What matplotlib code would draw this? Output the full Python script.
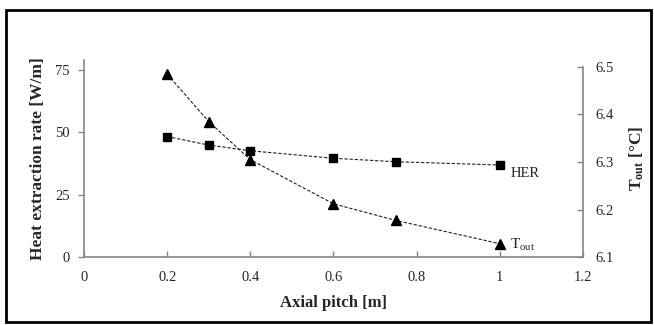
import matplotlib.pyplot as plt
from matplotlib.patches import Rectangle

plt.rcParams['font.family'] = ['Liberation Serif', 'DejaVu Serif']
plt.rcParams['mathtext.fontset'] = 'custom'
plt.rcParams['mathtext.rm'] = 'Liberation Serif'
plt.rcParams['mathtext.bf'] = 'Liberation Serif:bold'

# data
pitch = [0.2, 0.3, 0.4, 0.6, 0.75, 1.0]
her = [48.3, 44.9, 42.6, 39.6, 38.2, 36.9]
t_out = [6.485, 6.385, 6.305, 6.212, 6.177, 6.128]

x_ticks = [0, 0.2, 0.4, 0.6, 0.8, 1, 1.2]
x_labels = ['0', '0.2', '0.4', '0.6', '0.8', '1', '1.2']
her_ticks = [0, 25, 50, 75]
t_ticks = [6.1, 6.2, 6.3, 6.4, 6.5]

gray = '#868686'
txt = '#262626'

fig = plt.figure(figsize=(6.54, 3.25), dpi=100)
ax = fig.add_axes([0.1284, 0.2092, 0.7630, 0.6062])
ax2 = ax.twinx()

ax.plot(pitch, her, color='#222222', linestyle=(0, (3, 1.6)), linewidth=0.8,
        marker='s', markersize=5.5, markerfacecolor='black', markeredgecolor='black')
ax2.plot(pitch, t_out, color='#222222', linestyle=(0, (3, 1.6)), linewidth=0.8,
         marker='^', markersize=6.5, markerfacecolor='black', markeredgecolor='black')

ax.set_xlim(0, 1.2)
ax.set_ylim(0, 79)
ax2.set_ylim(6.1, 6.1 + 0.4 * 197 / 190)

ax.set_xticks(x_ticks)
ax.set_xticklabels(x_labels)
ax.set_yticks(her_ticks)
ax2.set_yticks(t_ticks)

for a in (ax, ax2):
    a.spines['top'].set_visible(False)
    for s in a.spines.values():
        s.set_color(gray)
        s.set_linewidth(1.2)
ax.spines['right'].set_visible(False)
ax2.spines['left'].set_visible(False)
ax2.spines['bottom'].set_visible(False)
ax2.spines['right'].set_bounds(6.1, 6.5)

ax.tick_params(axis='x', direction='in', length=4, width=1, color=gray,
               labelsize=10.5, labelcolor=txt, pad=10)
ax.tick_params(axis='y', direction='out', length=4, width=1, color=gray,
               labelsize=10.5, labelcolor=txt, pad=6)
ax2.tick_params(axis='y', direction='in', length=4, width=1, color=gray,
                labelsize=10.5, labelcolor=txt, pad=9)

ax.set_xlabel('Axial pitch [m]', fontsize=12, fontweight='bold', color=txt, labelpad=8)
ax.set_ylabel('Heat extraction rate [W/m]', fontsize=12.5, fontweight='bold',
              color=txt, labelpad=7)
ax2.set_ylabel(r'$\mathbf{T_{out}}$ [°C]', fontsize=12.5, fontweight='bold',
               color=txt, labelpad=10)

ax.text(1.025, 33.3, 'HER', fontsize=10.5, color=txt, va='center', ha='left')
ax2.text(1.025, 6.125, r'$\mathrm{T_{out}}$', fontsize=11, color=txt,
         va='center', ha='left')

fig.patches.append(Rectangle((6 / 654, 3 / 325), 645 / 654, 312 / 325,
                             transform=fig.transFigure, fill=False,
                             edgecolor='black', linewidth=2))

fig.savefig('out.png', dpi=100)
